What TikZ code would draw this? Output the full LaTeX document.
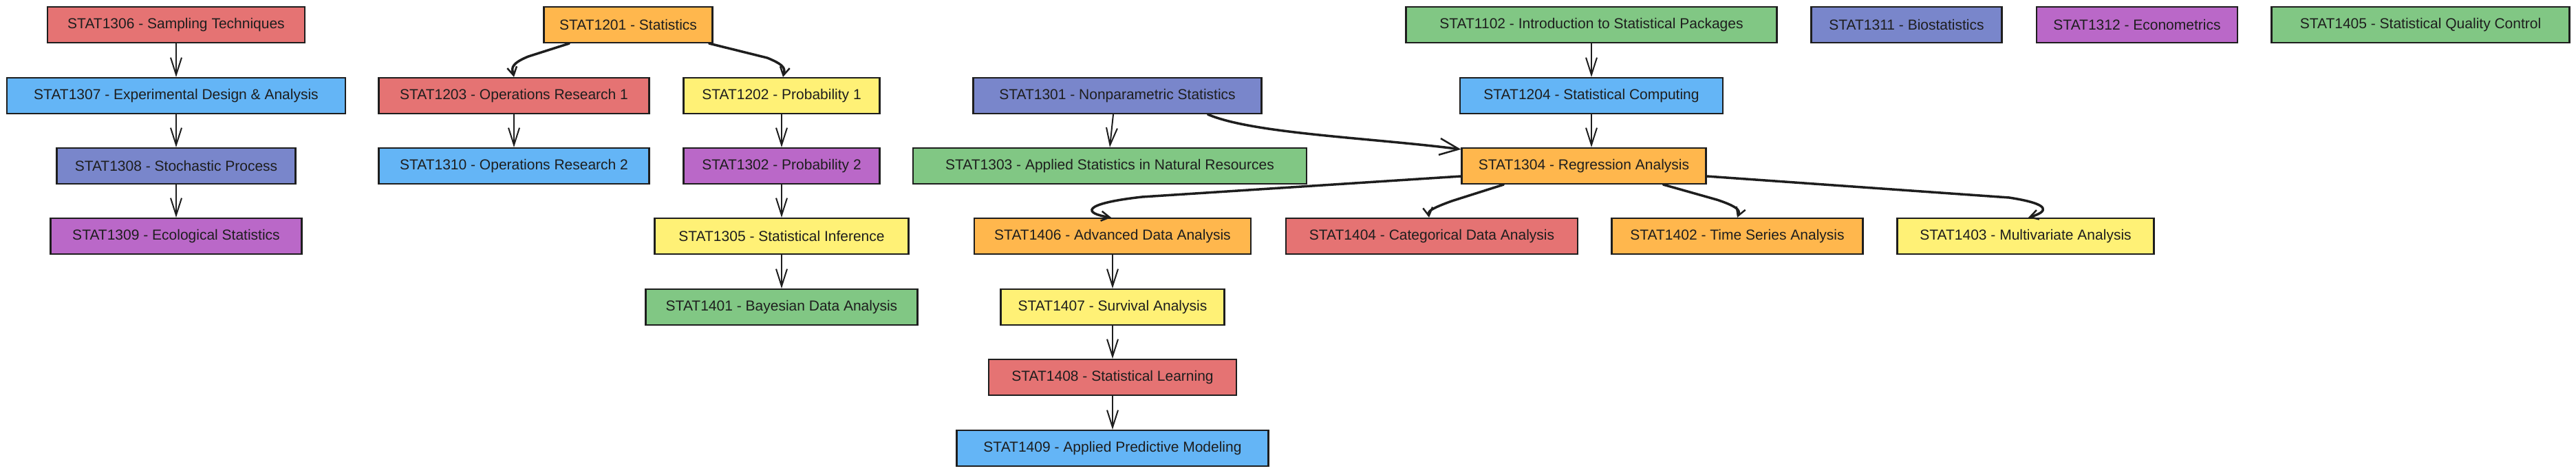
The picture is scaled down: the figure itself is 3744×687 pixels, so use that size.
\documentclass[tikz,border=0pt]{standalone}
\usepackage{fontspec}
\setmainfont{Liberation Sans}
\usetikzlibrary{arrows.meta,calc}
\definecolor{cred}{HTML}{E57373}
\definecolor{cblue}{HTML}{64B5F6}
\definecolor{cindigo}{HTML}{7986CB}
\definecolor{cpurple}{HTML}{BA68C8}
\definecolor{corange}{HTML}{FFB74D}
\definecolor{cyellow}{HTML}{FFF176}
\definecolor{cgreen}{HTML}{81C784}
\definecolor{cline}{HTML}{1E1E1E}
\begin{document}
\begin{tikzpicture}[x=1pt,y=-1pt,
  box/.style={draw=cline, line width=2.2pt, minimum height=52pt, inner sep=0pt,
    font=\fontsize{21}{25}\selectfont, text=cline},
  sarrow/.style={draw=cline, line width=2pt, -{Straight Barb[length=25pt,width=16pt,line width=2pt]}},
  carrow/.style={draw=cline, line width=3.5pt, line cap=round, line join=round, -{Straight Barb[length=12pt,width=14pt,line width=2.5pt]}},
  barrow/.style={draw=cline, line width=3.5pt, line cap=round, -{Straight Barb[length=28pt,width=24pt,line width=2.5pt]}}
]
\useasboundingbox[fill=white] (0,0) rectangle (3744,687);

% column 1
\node[box, fill=cred, minimum width=374pt] (n1306) at (256,36) {STAT1306 - Sampling Techniques};
\node[box, fill=cblue, minimum width=492pt] (n1307) at (256,139) {STAT1307 - Experimental Design \& Analysis};
\node[box, fill=cindigo, minimum width=347pt] (n1308) at (256,241) {STAT1308 - Stochastic Process};
\node[box, fill=cpurple, minimum width=365pt] (n1309) at (256,343) {STAT1309 - Ecological Statistics};

% statistics tree
\node[box, fill=corange, minimum width=245pt] (n1201) at (913,36) {STAT1201 - Statistics};
\node[box, fill=cred, minimum width=393pt] (n1203) at (747,139) {STAT1203 - Operations Research 1};
\node[box, fill=cblue, minimum width=393pt] (n1310) at (747,241) {STAT1310 - Operations Research 2};
\node[box, fill=cyellow, minimum width=285pt] (n1202) at (1136,139) {STAT1202 - Probability 1};
\node[box, fill=cpurple, minimum width=285pt] (n1302) at (1136,241) {STAT1302 - Probability 2};
\node[box, fill=cyellow, minimum width=369pt] (n1305) at (1136,343) {STAT1305 - Statistical Inference};
\node[box, fill=cgreen, minimum width=395pt] (n1401) at (1136,446) {STAT1401 - Bayesian Data Analysis};

% nonparametric / regression
\node[box, fill=cindigo, minimum width=419pt] (n1301) at (1624,139) {STAT1301 - Nonparametric Statistics};
\node[box, fill=cgreen, minimum width=572pt] (n1303) at (1613,241) {STAT1303 - Applied Statistics in Natural Resources};
\node[box, fill=cgreen, minimum width=539pt] (n1102) at (2313,36) {STAT1102 - Introduction to Statistical Packages};
\node[box, fill=cblue, minimum width=382pt] (n1204) at (2313,139) {STAT1204 - Statistical Computing};
\node[box, fill=corange, minimum width=355pt] (n1304) at (2302,241) {STAT1304 - Regression Analysis};
\node[box, fill=corange, minimum width=402pt] (n1406) at (1617,343) {STAT1406 - Advanced Data Analysis};
\node[box, fill=cred, minimum width=424pt] (n1404) at (2081,343) {STAT1404 - Categorical Data Analysis};
\node[box, fill=corange, minimum width=365pt] (n1402) at (2525,343) {STAT1402 - Time Series Analysis};
\node[box, fill=cyellow, minimum width=373pt] (n1403) at (2944,343) {STAT1403 - Multivariate Analysis};
\node[box, fill=cyellow, minimum width=325pt] (n1407) at (1617,446) {STAT1407 - Survival Analysis};
\node[box, fill=cred, minimum width=360pt] (n1408) at (1617,548) {STAT1408 - Statistical Learning};
\node[box, fill=cblue, minimum width=453pt] (n1409) at (1617,651) {STAT1409 - Applied Predictive Modeling};

% standalone
\node[box, fill=cindigo, minimum width=277pt] (n1311) at (2771,36) {STAT1311 - Biostatistics};
\node[box, fill=cpurple, minimum width=292pt] (n1312) at (3106,36) {STAT1312 - Econometrics};
\node[box, fill=cgreen, minimum width=433pt] (n1405) at (3518,36) {STAT1405 - Statistical Quality Control};

% straight edges
\draw[sarrow] (n1306) -- (n1307);
\draw[sarrow] (n1307) -- (n1308);
\draw[sarrow] (n1308) -- (n1309);
\draw[sarrow] (n1203) -- (n1310);
\draw[sarrow] (n1202) -- (n1302);
\draw[sarrow] (n1302) -- (n1305);
\draw[sarrow] (n1305) -- (n1401);
\draw[sarrow] (n1102) -- (n1204);
\draw[sarrow] (n1204.south) -- ($(n1304.north)+(11,0)$);
\draw[sarrow] (n1406) -- (n1407);
\draw[sarrow] (n1407) -- (n1408);
\draw[sarrow] (n1408) -- (n1409);
\draw[sarrow] ($(n1301.south)+(-6,0)$) -- (n1303.north);

% curved edges
\draw[carrow] ($(n1201.south west)+(38,0)$) -- (768,82) .. controls (738,94) and (745,102) .. (n1203.north);
\draw[carrow] ($(n1201.south east)+(-6,0)$) -- (1115,84) .. controls (1145,96) and (1140,102) .. ($(n1202.north)+(2,0)$);
\draw[barrow] ($(n1301.south west)+(342,0)$) .. controls (1820,194) and (1990,200) .. ($(n1304.north west)+(0,3)$);
\draw[carrow] ($(n1304.west)+(0,15)$) -- (1660,286) .. controls (1570,296) and (1575,310) .. ($(n1406.north)+(-2,0)$);
\draw[carrow] ($(n1304.south west)+(62,0)$) -- (2110,292) .. controls (2074,305) and (2076,308) .. ($(n1404.north)+(-4,0)$);
\draw[carrow] ($(n1304.south west)+(294,0)$) -- (2495,290) .. controls (2532,302) and (2528,308) .. (n1402.north);
\draw[carrow] ($(n1304.east)+(0,15)$) -- (2920,287) .. controls (2985,297) and (2975,308) .. ($(n1403.north)+(4,0)$);
\end{tikzpicture}
\end{document}
